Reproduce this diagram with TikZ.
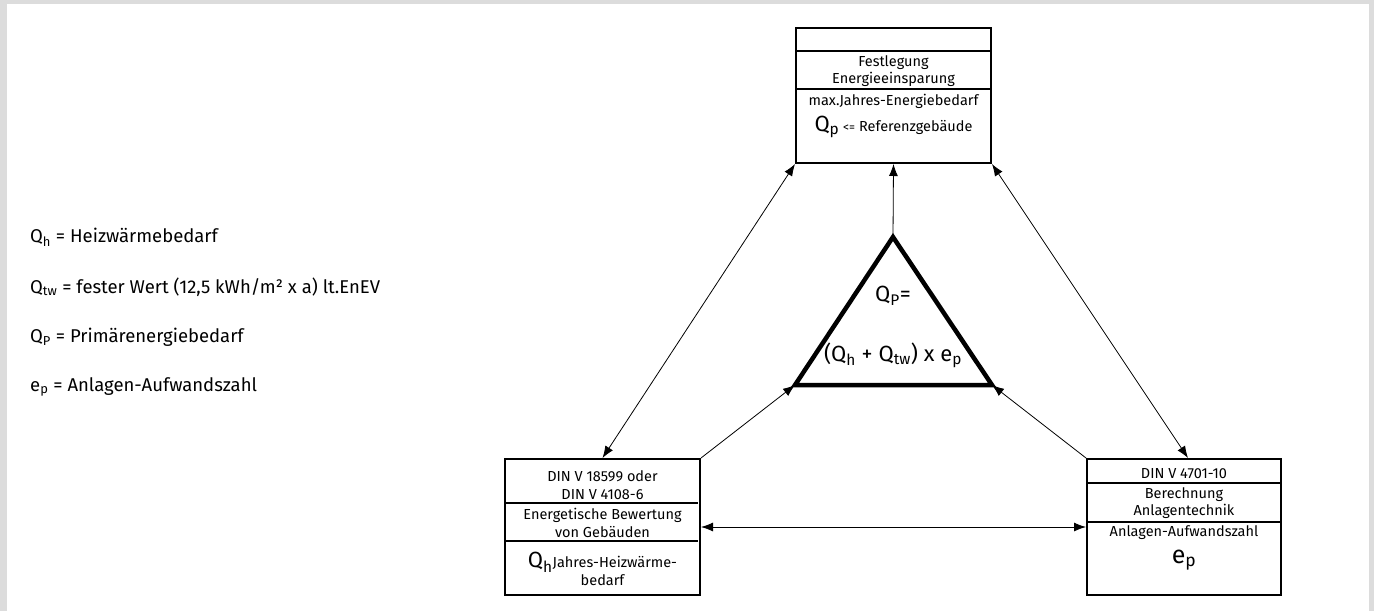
\documentclass[tikz,border=0pt]{standalone}
\usepackage{fontspec}
\setmainfont{Fira Sans}
\usetikzlibrary{arrows.meta}
\definecolor{framegray}{RGB}{220,220,220}
\newcommand{\lowix}[1]{\textsubscript{#1}}
\tikzset{
  kasten/.style={draw,line width=2pt,minimum width=195pt,minimum height=136pt,inner sep=0pt},
  trenn/.style={line width=1.2pt},
  ktext/.style={font=\fontsize{14.5}{17.5}\selectfont,align=center,inner sep=0pt},
  ltext/.style={font=\fontsize{18.5}{22}\selectfont,anchor=west,inner sep=0pt},
  dtext/.style={font=\fontsize{22}{26}\selectfont,inner sep=0pt},
  pfeil/.style={line width=0.8pt,-{Latex[length=12pt,width=9pt]}},
  dpfeil/.style={line width=0.8pt,{Latex[length=12pt,width=9pt]}-{Latex[length=12pt,width=9pt]}}
}
\begin{document}
\begin{tikzpicture}[x=1pt,y=-1pt]
		\fill[framegray] (0,0) rectangle (1374,611);
		\fill[white] (7,4) rectangle (1369,611);
		% Legende
		\node[ltext] (leg1) at (30,237) {Q\lowix{h} = Heizwärmebedarf};
		\node[ltext] (leg2) at (30,287) {Q\lowix{tw} = fester Wert (12,5 kWh/m² x a) lt.EnEV};
		\node[ltext] (leg3) at (30,337) {Q\lowix{P} = Primärenergiebedarf};
		\node[ltext] (leg4) at (30,387) {e\lowix{p} = Anlagen-Aufwandszahl};
		% Kaesten
		\node[kasten,minimum height=135pt] (festlegung) at (893.5,95.5) {};
		\node[kasten] (gebaeude) at (602.5,527) {};
		\node[kasten,minimum width=194pt] (anlage) at (1184,527) {};
		\draw[trenn] (796,51) -- (990,51);
		\draw[trenn] (796,89) -- (990,89);
		\draw[trenn] (506,503) -- (698,503);
		\draw[trenn] (506,541) -- (698,541);
		\draw[trenn] (1088,483) -- (1280,483);
		\draw[trenn] (1088,522) -- (1280,522);
		% Texte
		\node[ktext] (fest1) at (893.5,71) {Festlegung\\Energieeinsparung};
		\node[ktext] (fest2) at (893.5,101) {max.Jahres-Energiebedarf};
		\node[ktext] (fest3) at (893.5,127) {{\fontsize{22}{24}\selectfont Q\lowix{p}} {\fontsize{12}{13}\selectfont <=} Referenzgebäude};
		\node[ktext] (geb1) at (602.5,485) {DIN V 18599 oder\\DIN V 4108-6};
		\node[ktext] (geb2) at (602.5,523) {Energetische Bewertung\\von Gebäuden};
		\node[ktext] (geb3) at (602.5,569) {{\fontsize{22}{24}\selectfont Q\lowix{h}}Jahres-Heizwärme-\\bedarf};
		\node[ktext] (anl1) at (1184,474) {DIN V 4701-10};
		\node[ktext] (anl2) at (1184,503) {Berechnung\\Anlagentechnik};
		\node[ktext] (anl3) at (1184,533) {Anlagen-Aufwandszahl};
		\node[ktext,font=\fontsize{25}{27}\selectfont] (anl4) at (1184,560) {e\lowix{p}};
		% Dreieck
		\coordinate (spitze) at (893,237);
		\coordinate (links) at (795,385);
		\coordinate (rechts) at (992,385);
		\draw[line width=4.5pt,line join=miter] (spitze) -- (links) -- (rechts) -- cycle;
		\node[dtext] (formel1) at (893,296) {Q\lowix{P}=};
		\node[dtext] (formel2) at (893,355) {(Q\lowix{h} + Q\lowix{tw}) x e\lowix{p}};
		% Pfeile
		\draw[pfeil] (spitze) -- (festlegung.south);
		\draw[dpfeil] (festlegung.south west) -- (gebaeude.north);
		\draw[dpfeil] (festlegung.south east) -- ([xshift=4pt]anlage.north);
		\draw[pfeil] (gebaeude.north east) -- (links);
		\draw[pfeil] (anlage.north west) -- (rechts);
		\draw[dpfeil] (gebaeude.east) -- (anlage.west);
		\end{tikzpicture}
\end{document}
